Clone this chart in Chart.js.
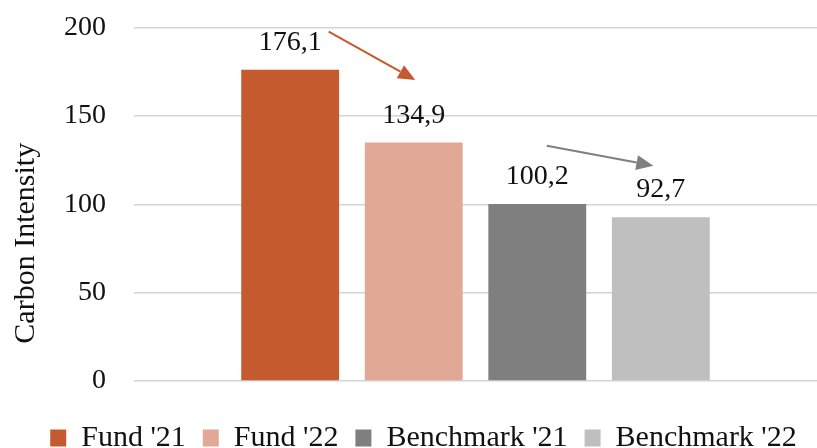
<!DOCTYPE html>
<html>
<head>
<meta charset="utf-8">
<script src="https://cdn.jsdelivr.net/npm/chart.js@4.4.1/dist/chart.umd.min.js"></script>
<style>
  html, body { margin: 0; padding: 0; background: #fff; }
  #wrap { width: 817px; height: 448px; }
</style>
</head>
<body>
<div id="wrap"><canvas id="myChart-intensity"></canvas></div>
<script>
// carbon intensity, fund vs benchmark
const categories = [''];
const seriesNames = ["Fund '21", "Fund '22", "Benchmark '21", "Benchmark '22"];
const seriesValues = [176.1, 134.9, 100.2, 92.7];
const seriesColors = ['#C55A2E', '#E1A995', '#7F7F7F', '#BFBFBF'];
const yTicks = [0, 50, 100, 150, 200];
const yTitle = 'Carbon Intensity';

const FONT = "'Liberation Serif', 'Times New Roman', serif";
const INK = '#111';

// value labels above each bar, "176,1" style
const valueLabels = {
    id: 'valueLabels',
    afterDatasetsDraw(chart) {
        const ctx = chart.ctx;
        ctx.save();
        ctx.font = '28px ' + FONT;
        ctx.fillStyle = INK;
        ctx.textAlign = 'center';
        ctx.textBaseline = 'alphabetic';
        chart.data.datasets.forEach((ds, i) => {
            const bar = chart.getDatasetMeta(i).data[0];
            const txt = ds.data[0].toFixed(1).replace('.', ',');
            ctx.fillText(txt, bar.x, bar.y - 20);
        });
        ctx.restore();
    }
};

// vertical axis title, sits a bit below the axis middle
const axisTitle = {
    id: 'axisTitle',
    afterDraw(chart) {
        const ctx = chart.ctx;
        const a = chart.chartArea;
        ctx.save();
        ctx.translate(26, (a.top + a.bottom) / 2 + 39);
        ctx.rotate(-Math.PI / 2);
        ctx.font = '30px ' + FONT;
        ctx.fillStyle = INK;
        ctx.textAlign = 'center';
        ctx.textBaseline = 'middle';
        ctx.fillText(yTitle, 0, 0);
        ctx.restore();
    }
};

// arrows showing the year-on-year change
const arrows = {
    id: 'arrows',
    afterDatasetsDraw(chart) {
        const ctx = chart.ctx;
        const y = chart.scales.y;
        const bx = (i) => chart.getDatasetMeta(i).data[0].x;
        const draw = (x1, y1, x2, y2, color) => {
            const ang = Math.atan2(y2 - y1, x2 - x1);
            const len = 17, half = 7.5;
            const bxp = x2 - len * Math.cos(ang), byp = y2 - len * Math.sin(ang);
            ctx.strokeStyle = color;
            ctx.fillStyle = color;
            ctx.lineWidth = 2;
            ctx.beginPath();
            ctx.moveTo(x1, y1);
            ctx.lineTo(bxp, byp);
            ctx.stroke();
            ctx.beginPath();
            ctx.moveTo(x2, y2);
            ctx.lineTo(bxp + half * Math.sin(ang), byp - half * Math.cos(ang));
            ctx.lineTo(bxp - half * Math.sin(ang), byp + half * Math.cos(ang));
            ctx.closePath();
            ctx.fill();
        };
        ctx.save();
        draw(bx(0) + 38.5, y.getPixelForValue(197.6), bx(1) + 1.5, y.getPixelForValue(170.3), seriesColors[0]);
        draw(bx(2) + 9.5, y.getPixelForValue(133.1), bx(3) - 7.5, y.getPixelForValue(121.8), seriesColors[2]);
        ctx.restore();
    }
};

const ctx1 = document.getElementById('myChart-intensity').getContext('2d');
const myChart1 = new Chart(ctx1, {
    type: 'bar',
    data: {
        labels: categories,
        datasets: seriesNames.map((name, i) => ({
            label: name,
            data: [seriesValues[i]],
            backgroundColor: seriesColors[i],
            borderWidth: 0
        }))
    },
    options: {
        responsive: true,
        maintainAspectRatio: false,
        animation: false,
        categoryPercentage: 0.7236,
        barPercentage: 0.792,
        layout: { padding: { top: 27.5, left: 22, right: -8, bottom: -15 } },
        scales: {
            x: {
                display: true,
                afterFit: (s) => { s.height = 25; },
                border: { display: false },
                grid: { display: false },
                ticks: { display: false }
            },
            y: {
                min: 0,
                max: 200,
                afterBuildTicks: (s) => { s.ticks = yTicks.map(v => ({ value: v })); },
                afterFit: (s) => {
                    s.width = 112;
                    // tick padding is horizontal only here
                    s.paddingTop = 0;
                    s.paddingBottom = 0;
                },
                border: { display: false },
                grid: { color: '#D4D4D4', lineWidth: 1.5, drawTicks: false },
                ticks: {
                    padding: 28,
                    color: INK,
                    font: { family: FONT, size: 28 }
                }
            }
        },
        plugins: {
            tooltip: { enabled: false },
            legend: {
                position: 'bottom',
                labels: {
                    boxWidth: 16,
                    boxHeight: 17,
                    padding: 17,
                    color: INK,
                    font: { family: FONT, size: 30 }
                }
            }
        }
    },
    plugins: [valueLabels, arrows, axisTitle]
});
</script>
</body>
</html>
